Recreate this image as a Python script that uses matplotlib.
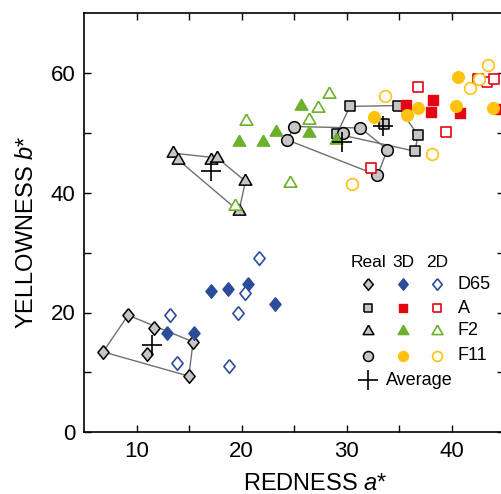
import numpy as np
import matplotlib
matplotlib.use('Agg')
import matplotlib.pyplot as plt

plt.rcParams['font.family'] = ['Liberation Sans', 'DejaVu Sans']
plt.rcParams['mathtext.fontset'] = 'custom'
plt.rcParams['mathtext.rm'] = 'Liberation Sans'
plt.rcParams['mathtext.it'] = 'Liberation Sans:italic'

# data (a* = redness, b* = yellowness)
d65_real_a = [6.82, 9.2, 11.68, 11.04, 15.39, 14.98]
d65_real_b = [13.43, 19.55, 17.43, 13.0, 15.1, 9.38]
d65_3d_a = [12.92, 15.49, 17.08, 18.72, 20.63, 23.17]
d65_3d_b = [16.5, 16.5, 23.55, 24.0, 24.83, 21.43]
d65_2d_a = [13.17, 13.87, 18.82, 19.68, 20.38, 21.65]
d65_2d_b = [19.55, 11.5, 11.05, 20.0, 23.33, 29.17]

a_real_a = [30.31, 34.86, 36.82, 36.5, 29.1, 33.55]
a_real_b = [54.4, 54.55, 49.55, 46.93, 49.8, 51.5]
a_3d_a = [35.71, 38.25, 38.03, 40.79, 44.6]
a_3d_b = [54.7, 55.4, 53.55, 53.3, 54.0]
a_2d_a = [32.38, 36.82, 39.52, 42.5, 43.36, 44.03]
a_2d_b = [44.2, 57.6, 50.1, 59.05, 58.43, 59.0]

f2_real_a = [13.49, 13.96, 17.14, 17.71, 20.38, 19.75]
f2_real_b = [46.6, 45.5, 45.4, 45.8, 41.9, 36.9]
f2_3d_a = [19.77, 22.06, 23.33, 25.65, 26.44, 28.98]
f2_3d_b = [48.4, 48.4, 50.1, 54.4, 49.9, 48.8]
f2_2d_a = [19.36, 20.41, 24.6, 26.44, 27.3, 28.34]
f2_2d_b = [37.7, 52.05, 41.6, 52.2, 54.1, 56.5]

f11_real_a = [24.38, 25.01, 29.62, 31.33, 33.9, 32.95]
f11_real_b = [48.8, 51.05, 49.9, 50.8, 47.2, 42.9]
f11_3d_a = [32.63, 35.8, 36.82, 40.47, 40.63, 43.96]
f11_3d_b = [52.6, 53.0, 54.17, 54.55, 59.27, 54.17]
f11_2d_a = [30.53, 33.65, 38.19, 41.75, 42.6, 43.49]
f11_2d_b = [41.4, 56.2, 46.5, 57.4, 59.05, 61.3]

illuminants = ['D65', 'A', 'F2', 'F11']

DIAMOND = [(0, 1), (0.82, 0), (0, -1), (-0.82, 0), (0, 1)]
SQUARE = [(-1, -1), (1, -1), (1, 1), (-1, 1), (-1, -1)]
TRIANGLE = [(0, 1), (0.866, -0.5), (-0.866, -0.5), (0, 1)]

GRAY = '#c6c6c6'
HULL = '#707070'

styles = {
    'D65': (DIAMOND, 9.8, '#2b4c9b'),
    'A': (SQUARE, 7.6, '#e30613'),
    'F2': (TRIANGLE, 10.5, '#6db02c'),
    'F11': ('o', 8.4, '#ffc20e'),
}

series = {
    'D65': ((d65_real_a, d65_real_b), (d65_3d_a, d65_3d_b), (d65_2d_a, d65_2d_b)),
    'A': ((a_real_a, a_real_b), (a_3d_a, a_3d_b), (a_2d_a, a_2d_b)),
    'F2': ((f2_real_a, f2_real_b), (f2_3d_a, f2_3d_b), (f2_2d_a, f2_2d_b)),
    'F11': ((f11_real_a, f11_real_b), (f11_3d_a, f11_3d_b), (f11_2d_a, f11_2d_b)),
}


def hull(xs, ys):
    pts = sorted(set(zip(xs, ys)))

    def cross(o, p, q):
        return (p[0] - o[0]) * (q[1] - o[1]) - (p[1] - o[1]) * (q[0] - o[0])

    lower, upper = [], []
    for p in pts:
        while len(lower) >= 2 and cross(lower[-2], lower[-1], p) <= 0:
            lower.pop()
        lower.append(p)
    for p in reversed(pts):
        while len(upper) >= 2 and cross(upper[-2], upper[-1], p) <= 0:
            upper.pop()
        upper.append(p)
    h = lower[:-1] + upper[:-1]
    h.append(h[0])
    return [p[0] for p in h], [p[1] for p in h]


fig = plt.figure(figsize=(5.01, 4.94), dpi=100)
ax = fig.add_axes([84 / 501, 61.7 / 494, 420 / 501, 419.3 / 494])

for name in illuminants:
    (ra, rb), (ta, tb), (wa, wb) = series[name]
    mk, ms, col = styles[name]
    hx, hy = hull(ra, rb)
    ax.plot(hx, hy, color=HULL, lw=1.0, zorder=2)
    ax.plot(ra, rb, ls='none', marker=mk, ms=ms, mfc=GRAY, mec='black', mew=1.1, zorder=3)

for name in illuminants:
    (ra, rb), (ta, tb), (wa, wb) = series[name]
    mk, ms, col = styles[name]
    ax.plot(ta, tb, ls='none', marker=mk, ms=ms, mfc=col, mec=col, mew=1.0, zorder=4)
    ax.plot(wa, wb, ls='none', marker=mk, ms=ms, mfc='white', mec=col, mew=1.2, zorder=5)

for name in illuminants:
    ra, rb = series[name][0]
    ax.plot(np.mean(ra), np.mean(rb), ls='none', marker='+', ms=14, mec='black', mew=1.2, zorder=6)

ax.set_xlim(5, 45)
ax.set_ylim(0, 70)
ax.set_xticks([10, 20, 30, 40])
ax.set_xticks([15, 25, 35], minor=True)
ax.set_yticks([0, 20, 40, 60])
ax.set_yticks([10, 30, 50], minor=True)
ax.tick_params(which='both', direction='in', length=5, width=1.0, top=True, right=True,
               labelsize=16, pad=6)
for s in ax.spines.values():
    s.set_linewidth(1.2)
ax.set_xlabel('REDNESS $a$*', fontsize=17, x=0.55, labelpad=8)
ax.set_ylabel('YELLOWNESS $b$*', fontsize=17, y=0.478, labelpad=9)

# hand-made legend grid
col_x = [0.677, 0.760, 0.840]
row_y = [0.353, 0.296, 0.242, 0.182]
for x, t in zip(col_x, ['Real', '3D', '2D']):
    ax.text(x, 0.4045, t, transform=ax.transAxes, ha='center', va='center', fontsize=12.5)
for name, y in zip(illuminants, row_y):
    mk, ms, col = styles[name]
    lms = ms * 0.85
    ax.plot(col_x[0], y, transform=ax.transAxes, marker=mk, ms=lms, mfc=GRAY, mec='black', mew=1.1, clip_on=False)
    ax.plot(col_x[1], y, transform=ax.transAxes, marker=mk, ms=lms, mfc=col, mec=col, mew=1.0, clip_on=False)
    ax.plot(col_x[2], y, transform=ax.transAxes, marker=mk, ms=lms, mfc='white', mec=col, mew=1.2, clip_on=False)
    ax.text(0.890, y, name, transform=ax.transAxes, ha='left', va='center', fontsize=13)
ax.plot(0.6755, 0.1247, transform=ax.transAxes, marker='+', ms=14, mec='black', mew=1.2, clip_on=False)
ax.text(0.72, 0.1247, 'Average', transform=ax.transAxes, ha='left', va='center', fontsize=13)

fig.savefig('out.png', dpi=100)
